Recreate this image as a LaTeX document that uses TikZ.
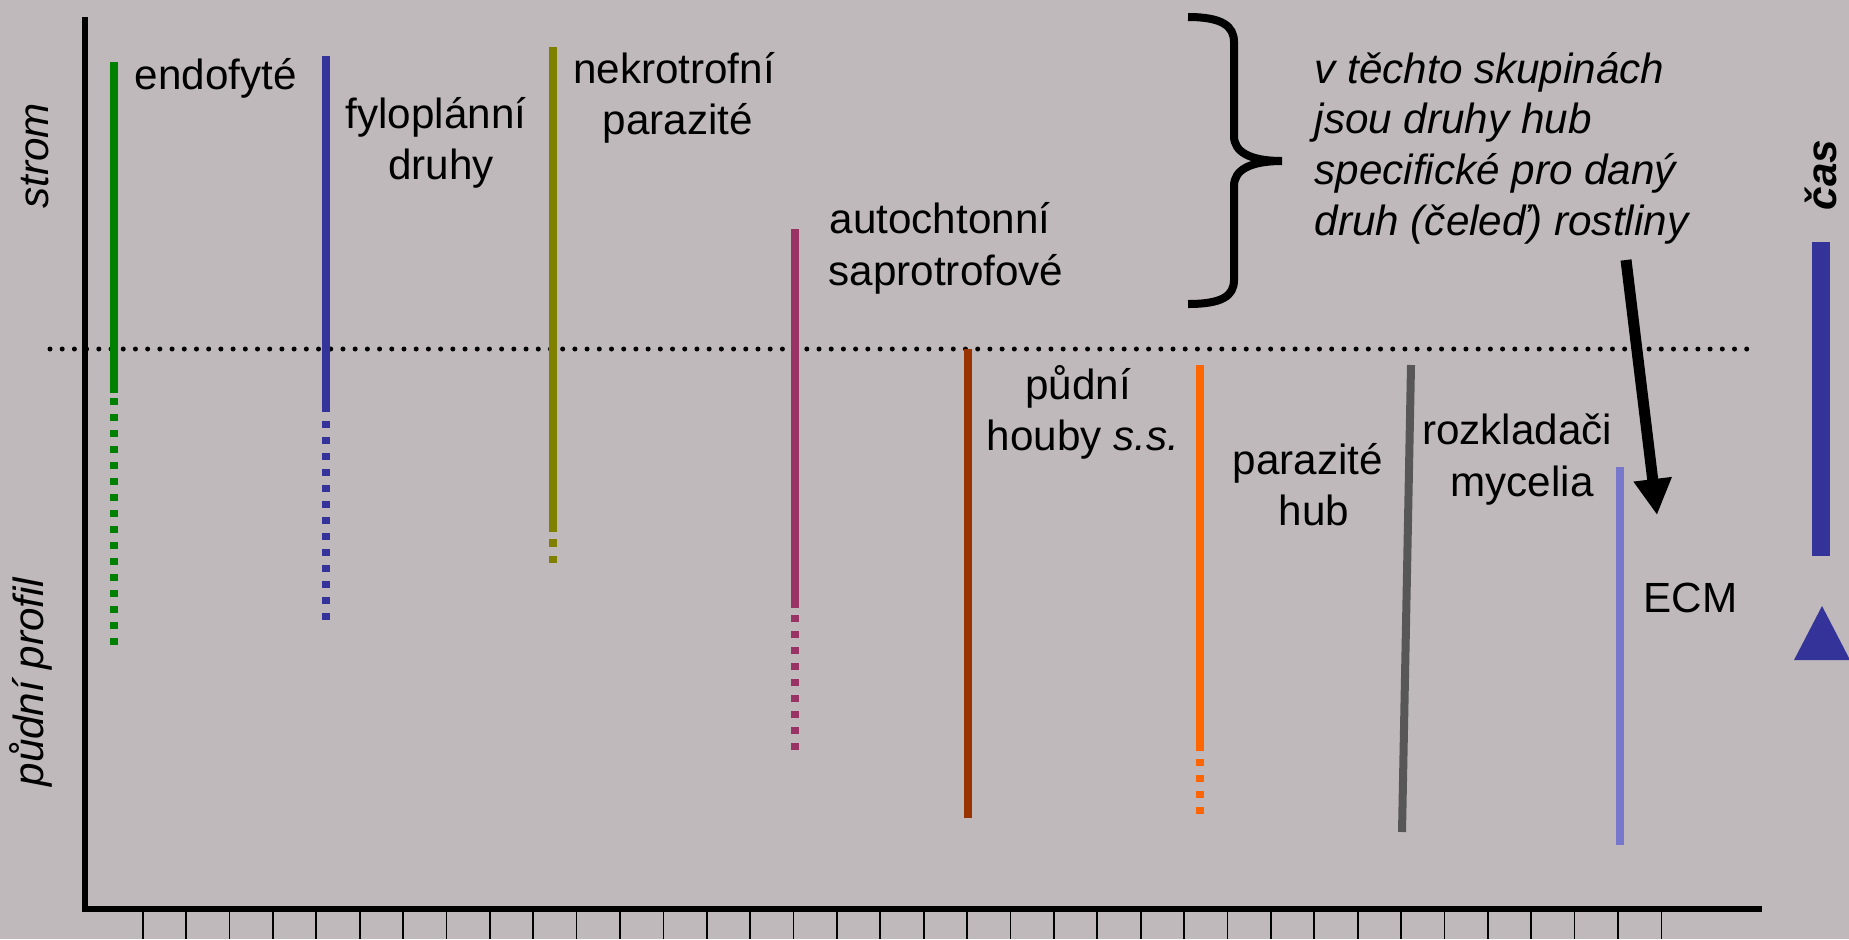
\documentclass[tikz,border=0pt]{standalone}
\usepackage{fontspec}
\setmainfont{Liberation Sans}
\usetikzlibrary{arrows.meta}
\definecolor{bg}{HTML}{BFB9BB}
\definecolor{cgreen}{HTML}{008000}
\definecolor{cblue}{HTML}{333399}
\definecolor{colive}{HTML}{808000}
\definecolor{cmagenta}{HTML}{993366}
\definecolor{cbrown}{HTML}{993300}
\definecolor{corange}{HTML}{FF6600}
\definecolor{cgray}{HTML}{575757}
\definecolor{clight}{HTML}{7777CC}
\tikzset{
  lbl/.style={font=\fontsize{12}{14}\selectfont, inner sep=0pt, anchor=base},
  ilbl/.style={lbl, font=\fontsize{12}{14}\selectfont\itshape},
  group/.style={line width=0.08cm},
  soilpart/.style={group, dash pattern=on 0.07cm off 0.09cm},
  axis/.style={line width=0.06cm, black},
  tickmark/.style={line width=0.5pt, black},
  surface/.style={line width=0.05cm, line cap=round, dash pattern=on 0pt off 0.122cm},
}
\begin{document}
\begin{tikzpicture}[x=0.01cm, y=-0.01cm]
\fill[bg] (0,0) rectangle (1849,939);
\useasboundingbox (0,0) rectangle (1849,939);

% axes
\coordinate (ytop) at (85,17);
\coordinate (origin) at (85,909);
\coordinate (xend) at (1762,909);
\draw[axis] (ytop) -- (origin) -- (xend);
\foreach \k in {0,...,35}
  \draw[tickmark] ({142.7+43.39*\k},912) -- ({142.7+43.39*\k},939);

% ground surface
\coordinate (sl) at (50,349);
\coordinate (sr) at (1752,349);
\draw[surface] (sl) -- (sr);

% axis labels
\node[ilbl, rotate=90] (strom) at (48,156) {strom};
\node[ilbl, rotate=90] (profil) at (44,682) {půdní profil};

% endophytes
\draw[group, cgreen] (114,62) -- (114,393);
\draw[soilpart, cgreen] (114,398) -- (114,645);
\node[lbl, anchor=base west] (endo) at (134,89) {endofyté};

% phylloplane species
\draw[group, cblue] (326,56) -- (326,412);
\draw[soilpart, cblue] (326,421) -- (326,621);
\node[lbl] (fylo1) at (436,128) {fyloplánní};
\node[lbl] (fylo2) at (441,179) {druhy};

% necrotrophic parasites
\draw[group, colive] (553,47) -- (553,532);
\draw[group, colive, dash pattern=on 0.08cm off 0.09cm] (553,539) -- (553,563);
\node[lbl] (nekro1) at (674,83) {nekrotrofní};
\node[lbl] (nekro2) at (678,134) {parazité};

% autochthonous saprotrophs
\draw[group, cmagenta] (795,229) -- (795,608);
\draw[soilpart, cmagenta] (795,615) -- (795,751);
\node[lbl, anchor=base west] (auto1) at (829,233) {autochtonní};
\node[lbl, anchor=base west] (auto2) at (828,285) {saprotrofové};

% brace and note
\draw[line width=0.08cm] (1188,17) .. controls (1222,17) and (1234,26) .. (1234,42)
  -- (1234,136) .. controls (1234,152) and (1250,161) .. (1282,161)
  .. controls (1250,161) and (1234,170) .. (1234,186)
  -- (1234,280) .. controls (1234,296) and (1222,304) .. (1188,304);
\node[ilbl, anchor=base west] (note1) at (1314,83) {v těchto skupinách};
\node[ilbl, anchor=base west] (note2) at (1314,133) {jsou druhy hub};
\node[ilbl, anchor=base west] (note3) at (1314,184) {specifické pro daný};
\node[ilbl, anchor=base west] (note4) at (1314,235) {druh (čeleď) rostliny};
\coordinate (arrS) at (1626,260);
\coordinate (arrE) at (1657,515);
\draw[line width=0.11cm, -{Triangle[length=0.36cm,width=0.36cm]}] (arrS) -- (arrE);

% soil fungi s.s.
\draw[group, cbrown] (968,349) -- (968,818);
\node[lbl] (pud1) at (1078,399) {půdní};
\node[lbl] (pud2) at (1083,450) {houby \textit{s.s.}};

% fungal parasites
\draw[group, corange] (1200,365) -- (1200,751);
\draw[soilpart, corange] (1200,759) -- (1200,815);
\node[lbl] (par1) at (1308,474) {parazité};
\node[lbl] (par2) at (1314,525) {hub};

% mycelium decomposers
\draw[group, cgray] (1411,365) -- (1402,832);
\node[lbl] (roz1) at (1517,444) {rozkladači};
\node[lbl] (roz2) at (1522,496) {mycelia};

% ECM
\draw[group, clight] (1620,467) -- (1620,845);
\node[lbl, anchor=base west] (ecm) at (1643,612) {ECM};

% time
\fill[cblue] (1812,242) rectangle (1830,556);
\fill[cblue] (1822,606) -- (1850,660) -- (1794,660) -- cycle;
\node[lbl, rotate=90, font=\fontsize{12}{14}\selectfont\bfseries\itshape] (cas) at (1836,175) {čas};
\end{tikzpicture}
\end{document}
